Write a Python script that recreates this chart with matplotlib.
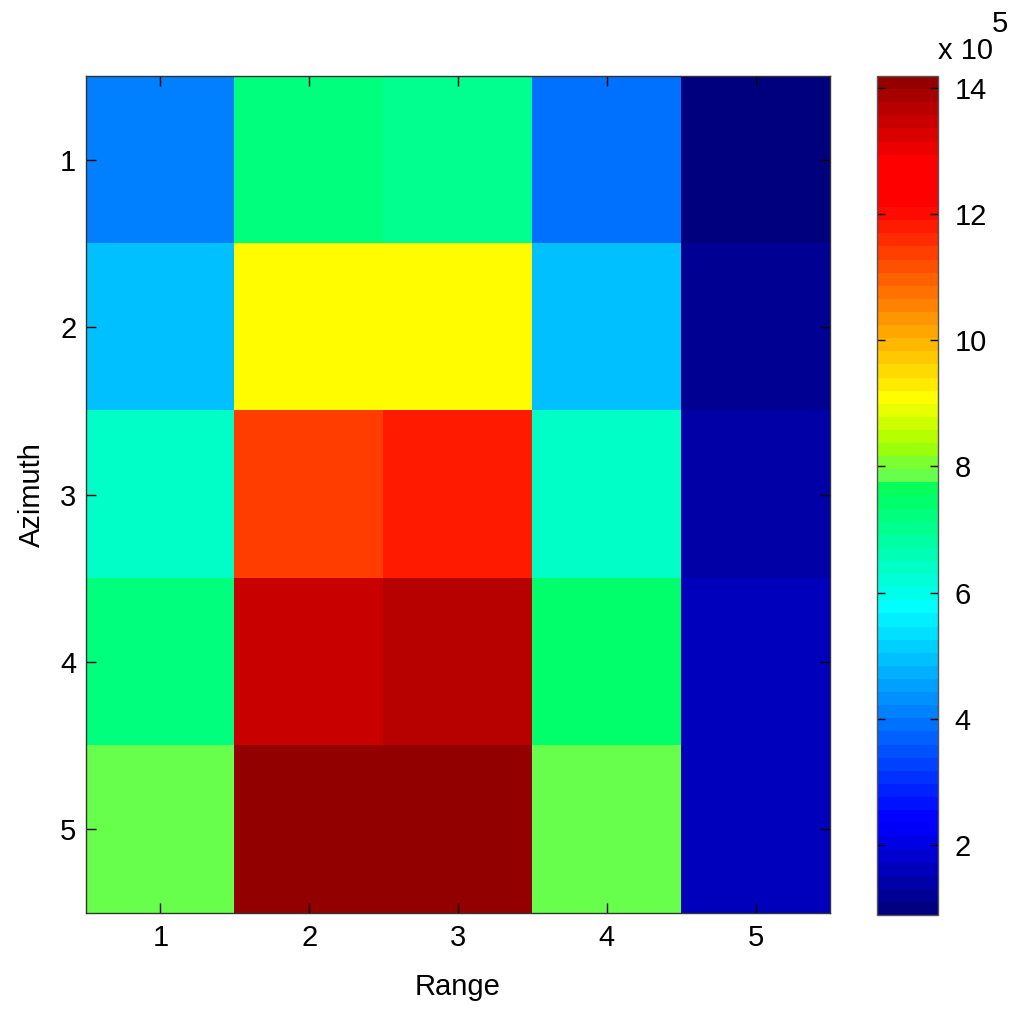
import numpy as np
import matplotlib
matplotlib.use("Agg")
import matplotlib.pyplot as plt
from matplotlib.colors import LinearSegmentedColormap

plt.rcParams['font.family'] = ['Liberation Sans', 'DejaVu Sans']

range_labels = [1, 2, 3, 4, 5]
azimuth_labels = [1, 2, 3, 4, 5]
# values in units of 1e5
row1 = [4.13, 7.3, 7.03, 3.87, 0.92]
row2 = [4.95, 9.15, 9.15, 4.95, 1.16]
row3 = [6.37, 11.46, 11.75, 6.48, 1.5]
row4 = [7.3, 13.37, 13.6, 7.5, 1.7]
row5 = [7.8, 14.1, 14.1, 7.8, 1.7]
cbar_ticks = [2, 4, 6, 8, 10, 12, 14]
vmin, vmax = 0.89, 14.19

data = np.array([row1, row2, row3, row4, row5])

# jet-like colormap as rendered in the reference
cdict = {
    'red': [(0.0, 0.0, 0.0), (0.507, 0.0, 0.0), (0.523, 0.4, 0.4),
            (0.539, 0.48, 0.48), (0.554, 0.6, 0.6), (0.578, 0.75, 0.75),
            (0.617, 1.0, 1.0), (0.905, 1.0, 1.0), (1.0, 0.58, 0.58)],
    'green': [(0.0, 0.0, 0.0), (0.11, 0.0, 0.0), (0.364, 1.0, 1.0),
              (0.617, 1.0, 1.0), (0.85, 0.0, 0.0), (1.0, 0.0, 0.0)],
    'blue': [(0.0, 0.5, 0.5), (0.10, 1.0, 1.0), (0.364, 1.0, 1.0),
             (0.507, 0.35, 0.35), (0.523, 0.3, 0.3), (0.539, 0.2, 0.2),
             (0.554, 0.05, 0.05), (0.57, 0.0, 0.0), (1.0, 0.0, 0.0)],
}
cmap = LinearSegmentedColormap('refjet', cdict, N=64)

fig = plt.figure(figsize=(10.24, 10.24), dpi=100)
W = H = 1024
ax = fig.add_axes([86 / W, 1 - 913 / H, (830 - 86) / W, (913 - 76) / H])
im = ax.imshow(data, cmap=cmap, vmin=vmin, vmax=vmax, aspect='auto',
               extent=[0.5, 5.5, 5.5, 0.5], interpolation='nearest')
ax.set_xticks(range_labels)
ax.set_yticks(azimuth_labels)
ax.set_xticklabels([str(v) for v in range_labels])
ax.set_yticklabels([str(v) for v in azimuth_labels])
ax.tick_params(direction='in', length=7, width=1, labelsize=21, top=True, right=True)
ax.tick_params(axis='x', pad=8)
ax.tick_params(axis='y', pad=7)
ax.set_xlabel('Range', fontsize=21, labelpad=15)
ax.set_ylabel('Azimuth', fontsize=21, labelpad=10)
for s in ax.spines.values():
    s.set_linewidth(1)
    s.set_color('#333333')

cax = fig.add_axes([877 / W, 1 - 915 / H, (938 - 877) / W, (915 - 76) / H])
cb = fig.colorbar(im, cax=cax)
cb.set_ticks(cbar_ticks)
cb.set_ticklabels([str(v) for v in cbar_ticks])
cax.tick_params(direction='in', length=6, width=1, labelsize=21, left=True, right=True, pad=12)
cb.outline.set_linewidth(1)
cb.outline.set_edgecolor('#555555')

fig.text(938 / W, 1 - 59 / H, 'x 10', fontsize=21, ha='left', va='baseline')
fig.text(992 / W, 1 - 32 / H, '5', fontsize=21, ha='left', va='baseline')

fig.savefig('out.png', dpi=100)
